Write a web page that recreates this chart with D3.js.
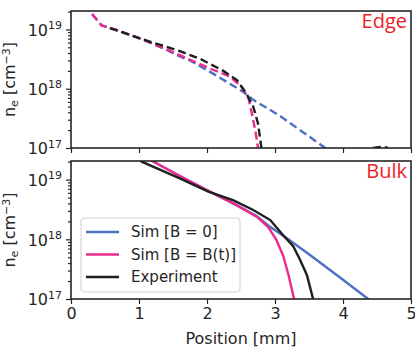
<!DOCTYPE html>
<html>
<head>
<meta charset="utf-8">
<script src="https://cdn.jsdelivr.net/npm/d3@7"></script>
<style>
  body { margin: 0; background: white; }
  svg { display: block; font-family: "DejaVu Sans", sans-serif; }
</style>
</head>
<body>
<script>
const W = 415, H = 363;
const left = 71, right = 411;
const panels = [
  { name: "Edge", top: 11, bottom: 148, dashed: true, xLabels: false },
  { name: "Bulk", top: 161, bottom: 299, dashed: false, xLabels: true }
];
const ink = "#262626";
const colors = { b0: "#4c6fbf", bt: "#ec2a8e", exp: "#1f1f1f" };

// tick values
const xTicks = [0, 1, 2, 3, 4, 5];
const yMajor = [1e17, 1e18, 1e19];

// Edge panel (dashed), [position mm, n_e cm^-3]
const edgeB0 = [[0.22, 2.7e19], [0.28, 2.0e19], [0.45, 1.17e19], [0.67, 9.8e18], [1.01, 7.1e18],
  [1.41, 4.5e18], [1.6, 3.5e18], [1.75, 3.0e18], [2.09, 1.8e18], [2.53, 8.9e17], [2.68, 6.5e17],
  [3.07, 3.5e17], [3.74, 1.0e17], [3.85, 8.5e16]];
const edgeBt = [[0.22, 2.7e19], [0.28, 2.0e19], [0.45, 1.17e19], [0.67, 9.8e18], [1.01, 7.1e18],
  [1.41, 4.6e18], [1.6, 3.7e18], [2.04, 2.2e18], [2.34, 1.6e18], [2.51, 1.07e18], [2.61, 6.9e17],
  [2.66, 3.8e17], [2.71, 2.0e17], [2.75, 1.0e17], [2.77, 8e16]];
const edgeExp = [[0.57, 1.05e19], [0.8, 8.6e18], [1.01, 7.1e18], [1.2, 6.0e18], [1.41, 5.1e18],
  [1.6, 4.3e18], [1.9, 3.2e18], [2.24, 2.0e18], [2.44, 1.4e18], [2.58, 8.3e17], [2.68, 5.0e17],
  [2.75, 2.6e17], [2.8, 1.0e17], [2.82, 8e16], null,
  [4.44, 1.0e17], [4.52, 1.03e17], [4.6, 1.05e17], [4.66, 1.0e17]];

// Bulk panel (solid)
const bulkB0 = [[1.12, 2.5e19], [1.21, 2.0e19], [1.6, 1.15e19], [2.09, 5.9e18], [2.44, 3.7e18],
  [2.73, 2.45e18], [2.9, 1.7e18], [3.17, 1.05e18], [3.51, 5.5e17], [4.0, 2.1e17], [4.37, 1.0e17],
  [4.45, 8.5e16]];
const bulkBt = [[1.12, 2.5e19], [1.21, 2.0e19], [1.6, 1.15e19], [2.09, 5.9e18], [2.44, 3.7e18],
  [2.73, 2.4e18], [2.9, 1.6e18], [3.02, 9.8e17], [3.12, 5.3e17], [3.2, 2.5e17], [3.28, 1.0e17],
  [3.3, 8e16]];
const bulkExp = [[0.98, 2.3e19], [1.04, 2.0e19], [1.6, 1.05e19], [2.02, 6.3e18], [2.39, 4.5e18],
  [2.68, 3.1e18], [2.93, 2.1e18], [3.12, 1.17e18], [3.27, 7.6e17], [3.37, 4.5e17], [3.47, 2.5e17],
  [3.56, 1.0e17], [3.58, 8e16]];

const legendItems = [
  { label: "Sim [B = 0]", color: colors.b0 },
  { label: "Sim [B = B(t)]", color: colors.bt },
  { label: "Experiment", color: colors.exp }
];

const svg = d3.select("body").append("svg")
  .attr("width", W).attr("height", H);

const x = d3.scaleLinear().domain([0, 5]).range([left, right]);

const minor = [];
[1e16, 1e17, 1e18, 1e19].forEach(d => { for (let k = 2; k <= 9; k++) minor.push(d * k); });

panels.forEach((p, pi) => {
  const y = d3.scaleLog().domain([1e17, 2.05e19]).range([p.bottom, p.top]);
  const g = svg.append("g");

  g.append("clipPath").attr("id", "clip" + pi)
    .append("rect").attr("x", left).attr("y", p.top)
    .attr("width", right - left).attr("height", p.bottom - p.top);

  const line = d3.line()
    .defined(d => d !== null)
    .x(d => x(d[0])).y(d => y(d[1]));

  const series = pi === 0
    ? [[edgeB0, colors.b0], [edgeBt, colors.bt], [edgeExp, colors.exp]]
    : [[bulkB0, colors.b0], [bulkBt, colors.bt], [bulkExp, colors.exp]];

  const lines = g.append("g").attr("clip-path", "url(#clip" + pi + ")");
  series.forEach(([data, c]) => {
    lines.append("path")
      .attr("d", line(data))
      .attr("fill", "none")
      .attr("stroke", c)
      .attr("stroke-width", 2.4)
      .attr("stroke-dasharray", p.dashed ? "8,4" : null);
  });

  // axes
  const xAxis = d3.axisBottom(x).tickValues(xTicks).tickSize(5).tickPadding(4)
    .tickFormat(p.xLabels ? d3.format("d") : "");
  const gx = g.append("g").attr("transform", `translate(0,${p.bottom})`).call(xAxis);

  const yAxis = d3.axisLeft(y).tickValues(yMajor).tickSize(5).tickPadding(5).tickFormat("");
  const gy = g.append("g").attr("transform", `translate(${left},0)`).call(yAxis);
  const yMinor = d3.axisLeft(y).tickValues(minor.filter(v => v > 1e17 && v < 2.05e19))
    .tickSize(3).tickFormat("");
  const gm = g.append("g").attr("transform", `translate(${left},0)`).call(yMinor);
  gm.select(".domain").remove();

  gy.selectAll(".tick").append("text")
    .attr("x", -9).attr("dy", "0.36em")
    .attr("text-anchor", "end")
    .attr("fill", ink)
    .attr("font-size", 16)
    .each(function (d) {
      const t = d3.select(this);
      t.append("tspan").text("10");
      t.append("tspan").attr("dy", "-0.6em").attr("font-size", 11).text(Math.round(Math.log10(d)));
    });

  [gx, gy, gm].forEach(a => {
    a.selectAll("line").attr("stroke", ink).attr("stroke-width", 1.2);
    a.selectAll(".domain").remove();
    a.selectAll(".tick text").attr("fill", ink).attr("font-size", 16)
      .style("font-family", "DejaVu Sans");
  });

  // frame
  g.append("rect")
    .attr("x", left).attr("y", p.top)
    .attr("width", right - left).attr("height", p.bottom - p.top)
    .attr("fill", "none").attr("stroke", ink).attr("stroke-width", 1.6);

  // panel tag
  g.append("text")
    .attr("x", right - 4).attr("y", p.top + 17)
    .attr("text-anchor", "end")
    .attr("fill", "#ee1c25")
    .style("font-family", "Open Sans")
    .attr("font-size", 20)
    .text(p.name);

  // y label
  const yl = g.append("text")
    .attr("transform", `translate(15,${(p.top + p.bottom) / 2}) rotate(-90)`)
    .attr("text-anchor", "middle")
    .attr("fill", ink)
    .attr("font-size", 16);
  yl.append("tspan").text("n");
  yl.append("tspan").attr("font-size", 11).attr("dy", "0.25em").text("e");
  yl.append("tspan").attr("dy", "-0.17em").text(" [cm");
  yl.append("tspan").attr("font-size", 11).attr("dy", "-0.45em").text("\u22123");
  yl.append("tspan").attr("dy", "0.31em").text("]");

  if (p.xLabels) {
    g.append("text")
      .attr("x", (left + right) / 2).attr("y", 344)
      .attr("text-anchor", "middle")
      .attr("fill", ink)
      .attr("font-size", 16)
      .text("Position [mm]");

    // legend
    const lg = g.append("g");
    lg.append("rect")
      .attr("x", 81).attr("y", 218).attr("width", 159).attr("height", 74)
      .attr("rx", 3)
      .attr("fill", "white").attr("fill-opacity", 0.85)
      .attr("stroke", "#d0d0d0").attr("stroke-width", 1);
    const rows = d3.scalePoint().domain(legendItems.map(d => d.label)).range([232, 277]);
    const item = lg.selectAll(".item").data(legendItems).enter().append("g")
      .attr("transform", d => `translate(0,${rows(d.label)})`);
    item.append("line")
      .attr("x1", 86).attr("x2", 119)
      .attr("stroke", d => d.color).attr("stroke-width", 2.4);
    item.append("text")
      .attr("x", 131).attr("dy", "0.36em")
      .attr("fill", ink).attr("font-size", 15)
      .text(d => d.label);
  }
});
</script>
</body>
</html>
